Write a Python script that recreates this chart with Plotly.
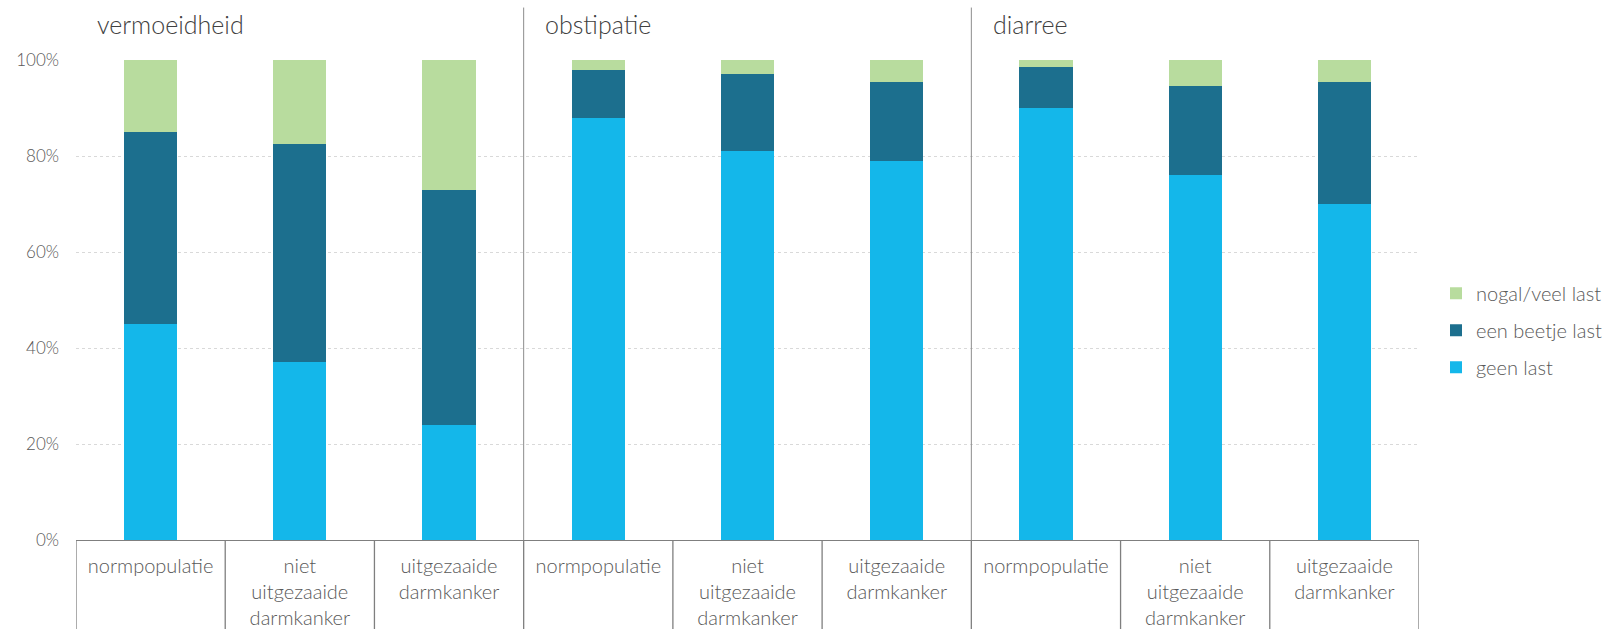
import plotly.graph_objects as go

# Symptom groups and the patient groups within each
groups = ["vermoeidheid", "obstipatie", "diarree"]
subgroups = ["normpopulatie", "niet<br>uitgezaaide<br>darmkanker", "uitgezaaide<br>darmkanker"]

# Percentages per bar (3 groups x 3 patient groups)
geen_last = [45, 37, 24, 88, 81, 79, 90, 76, 70]
een_beetje_last = [40, 45.5, 49, 10, 16, 16.5, 8.5, 18.5, 25.5]
nogal_veel_last = [15, 17.5, 27, 2, 3, 4.5, 1.5, 5.5, 4.5]

y_ticks = [0, 20, 40, 60, 80, 100]

series = [
    ("geen last", geen_last, "#14B7EA"),
    ("een beetje last", een_beetje_last, "#1C6F8E"),
    ("nogal/veel last", nogal_veel_last, "#B8DC9E"),
]

n_sub = len(subgroups)
x_pos = list(range(len(groups) * n_sub))
tick_text = [subgroups[i % n_sub] for i in x_pos]

FONT = "Lato"
TXT = "#595959"

fig = go.Figure()
for rank, (name, vals, col) in enumerate(series):
    fig.add_trace(go.Bar(
        x=x_pos, y=vals, name=name, legendgroup=name,
        legendrank=1000 - rank,  # top segment listed first
        marker=dict(color=col, line=dict(width=0)), width=0.357,
    ))

W, H = 1620, 629
L, R, T, B = 76, 201, 59.5, 89
plot_h = H - T - B


def py(pix):
    """pixel row -> paper y"""
    return (H - B - pix) / plot_h


shapes = []
# group dividers inside the plot
for xv in [2.5, 5.5]:
    shapes.append(dict(type="line", xref="x", yref="paper", x0=xv, x1=xv,
                       y0=0, y1=py(7), line=dict(color="#8C8C8C", width=1)))
# category boxes below the axis
for i in range(len(x_pos) + 1):
    xv = i - 0.5
    shapes.append(dict(type="line", xref="x", yref="paper", x0=xv, x1=xv,
                       y0=0, y1=py(H + 5), line=dict(color="#7F7F7F", width=1.3)))

annotations = []
for gi, g in enumerate(groups):
    annotations.append(dict(
        text=g, xref="x", yref="paper", x=gi * n_sub - 0.5 + 0.13, y=py(23),
        xanchor="left", yanchor="middle", showarrow=False,
        font=dict(family=FONT, size=25, color="#404040", weight=300),
    ))

fig.update_layout(
    width=W, height=H, barmode="stack",
    margin=dict(l=L, r=R, t=T, b=B, pad=0, autoexpand=False),
    paper_bgcolor="white", plot_bgcolor="white",
    font=dict(family=FONT, color=TXT),
    shapes=shapes, annotations=annotations,
    legend=dict(
        font=dict(family=FONT, size=20, color=TXT, weight=300),
        bgcolor="rgba(0,0,0,0)", xanchor="left", yanchor="middle",
        x=(1436 - L) / (W - L - R), y=py(330), itemwidth=30,
        traceorder="grouped", tracegroupgap=8,
    ),
)
fig.update_xaxes(
    range=[-0.5, len(x_pos) - 0.5], tickmode="array", tickvals=x_pos, ticktext=tick_text,
    showgrid=False, zeroline=False, showline=True, linecolor="#7F7F7F", linewidth=1.3,
    ticks="", tickfont=dict(family=FONT, size=20, color=TXT, weight=300),
    ticklabelstandoff=8, tickangle=0, automargin=False,
)
fig.update_yaxes(
    range=[0, 100], tickmode="array", tickvals=y_ticks,
    ticktext=[f"{v}%" for v in y_ticks],
    showgrid=True, gridcolor="#D9D9D9", griddash="dot", gridwidth=1,
    zeroline=False, showline=False, ticks="", ticklabelstandoff=16,
    tickfont=dict(family=FONT, size=17, color=TXT, weight=300), automargin=False,
)

fig.write_html("out.html")
